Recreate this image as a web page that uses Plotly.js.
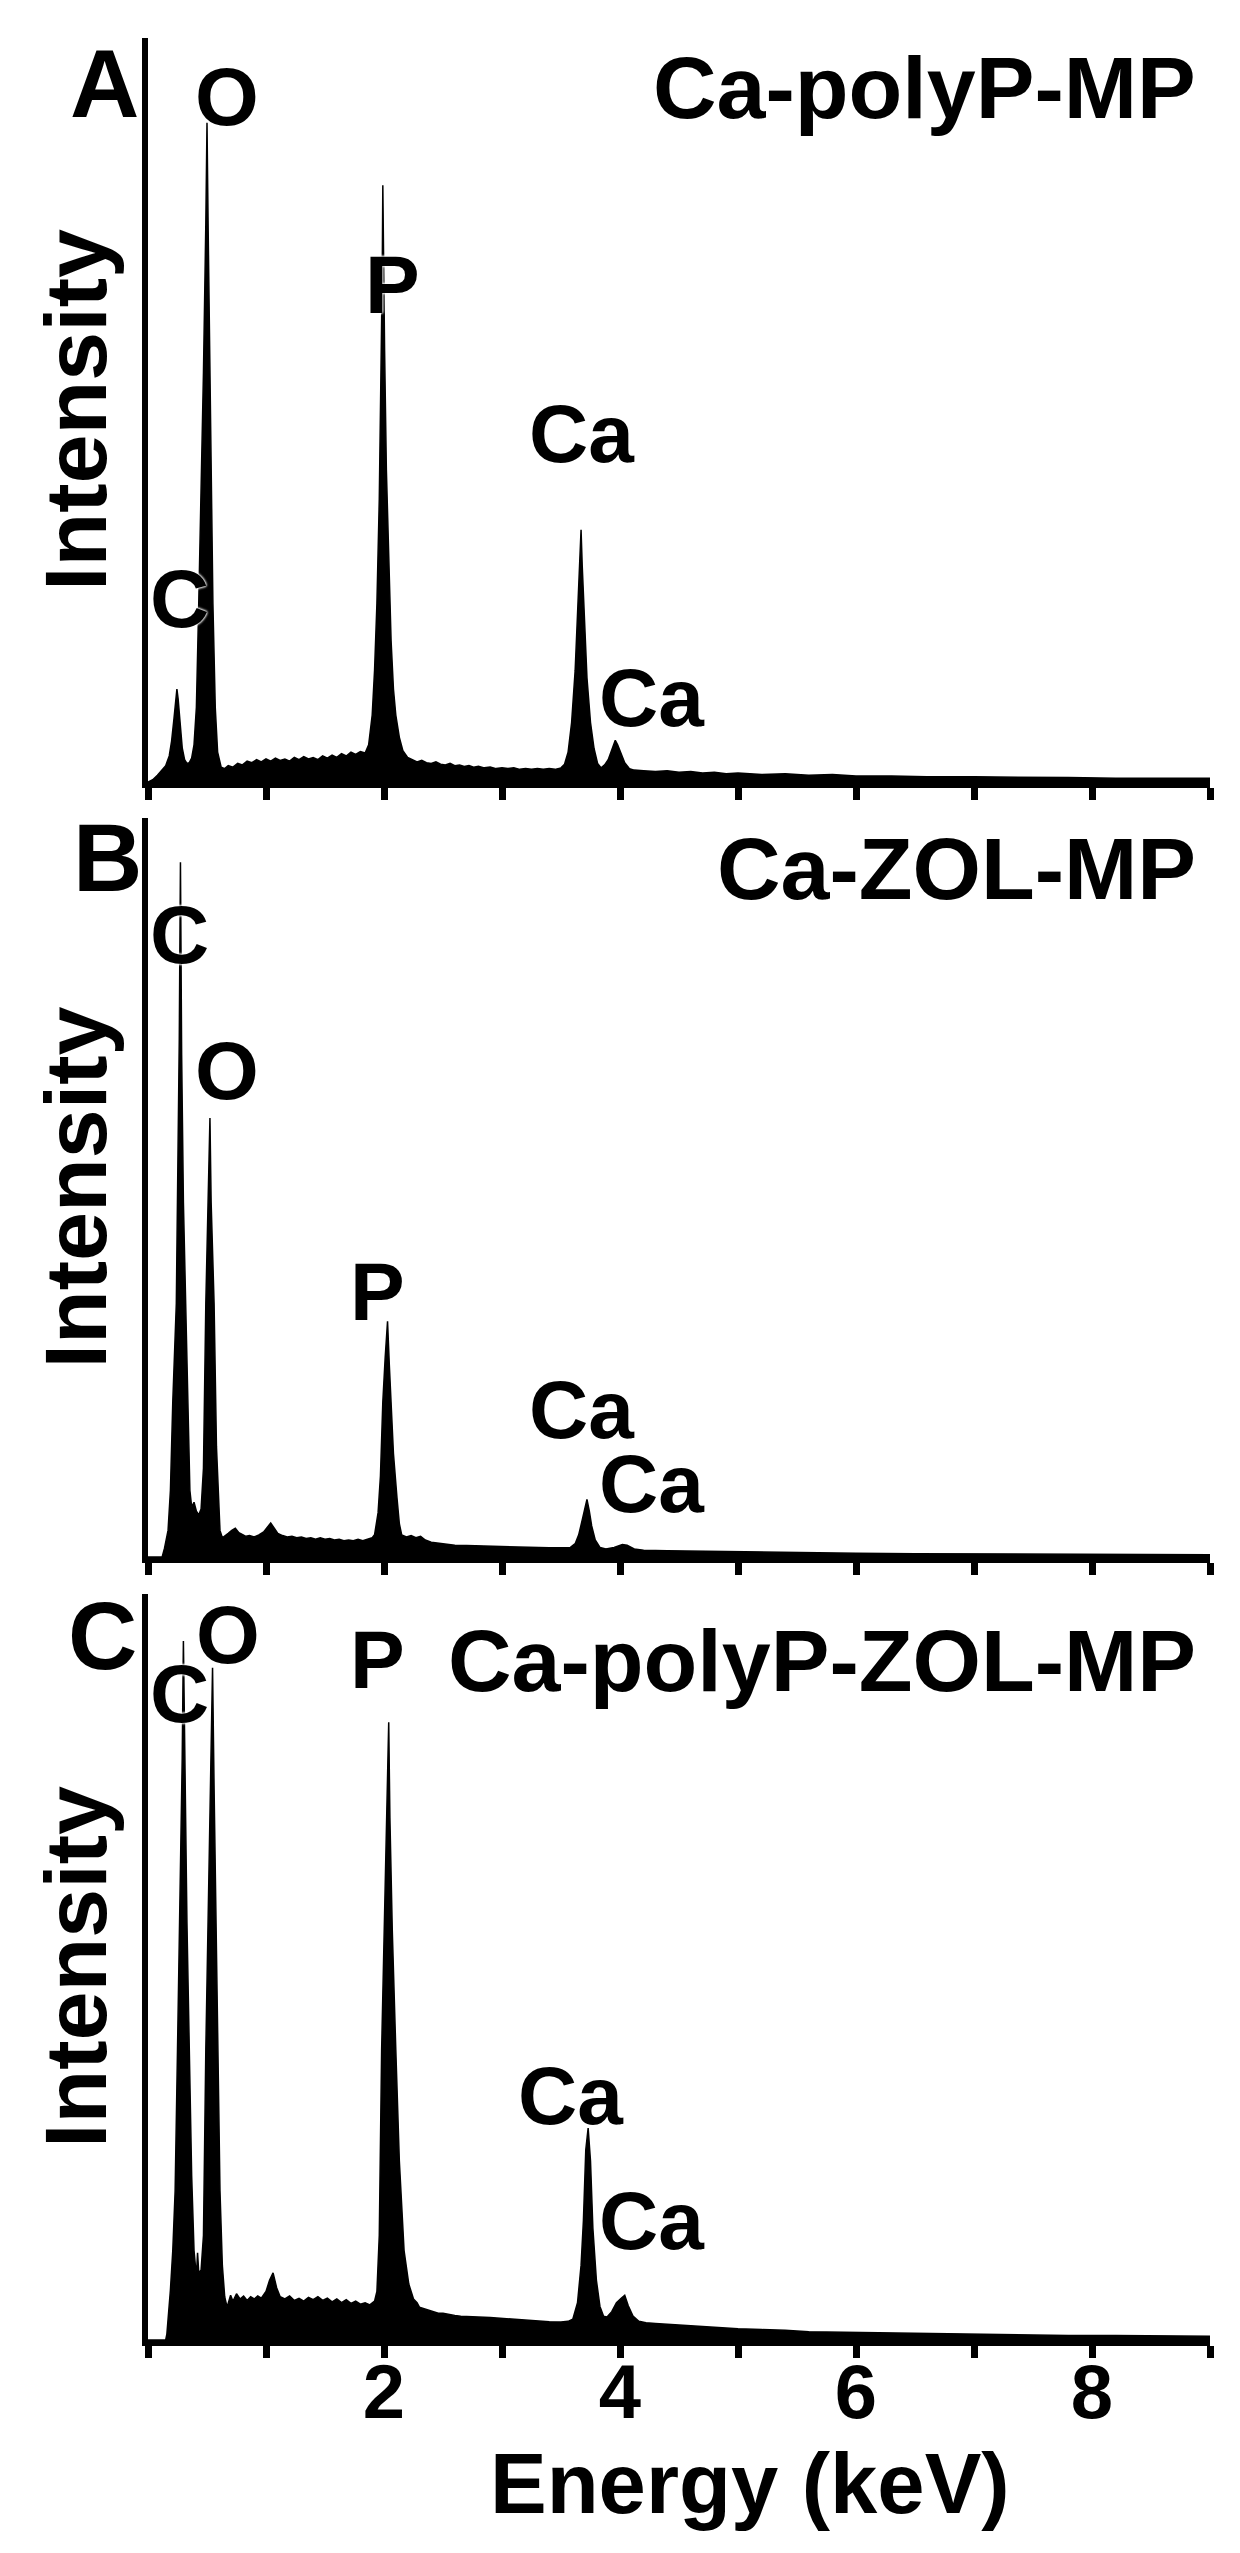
<!DOCTYPE html>
<html>
<head>
<meta charset="utf-8">
<script src="https://cdn.plot.ly/plotly-3.0.1.min.js"></script>
<style>
  html, body { margin: 0; padding: 0; background: #ffffff; }
  #chart { width: 1240px; height: 2553px; }
</style>
</head>
<body>
<div id="chart"></div>
<script>
// ---------------- DATA ----------------
// Energy in keV, intensity in arbitrary units (0-100 = full height of each panel)
const spectrumA = [
[0.00,0.0],[0.04,0.3],[0.08,0.9],[0.12,1.6],[0.15,2.2],[0.18,3.5],[0.20,5.5],[0.22,8.5],[0.235,11.0],[0.245,12.5],[0.255,11.2],[0.27,8.0],[0.29,4.6],[0.31,3.0],[0.33,2.5],[0.35,2.6],[0.37,3.2],[0.39,5.0],[0.41,10.0],[0.43,24.0],[0.45,38.0],[0.47,55.0],[0.49,75.0],[0.50,88.6],[0.51,74.0],[0.53,45.0],[0.55,24.0],[0.57,10.0],[0.59,4.0],[0.62,2.0],[0.65,1.8],[0.68,2.2],[0.72,2.0],[0.76,2.5],[0.80,2.3],[0.84,2.8],[0.88,2.6],[0.92,3.0],[0.96,2.7],[1.00,3.1],[1.04,2.8],[1.08,3.2],[1.12,2.9],[1.16,3.1],[1.20,2.8],[1.24,3.3],[1.28,3.0],[1.32,3.4],[1.36,3.1],[1.40,3.3],[1.44,3.0],[1.48,3.5],[1.52,3.2],[1.56,3.6],[1.60,3.3],[1.64,3.8],[1.68,3.5],[1.72,4.0],[1.76,3.7],[1.80,4.1],[1.84,3.9],[1.87,5.0],[1.90,9.0],[1.92,15.0],[1.94,24.0],[1.96,38.0],[1.975,55.0],[1.985,68.0],[1.99,80.2],[1.995,70.0],[2.005,58.0],[2.02,42.0],[2.04,29.0],[2.06,19.0],[2.08,12.5],[2.10,9.0],[2.13,6.0],[2.16,4.2],[2.20,3.3],[2.24,3.0],[2.28,2.7],[2.32,2.9],[2.36,2.6],[2.40,2.5],[2.44,2.7],[2.48,2.4],[2.52,2.3],[2.56,2.5],[2.60,2.2],[2.64,2.3],[2.68,2.1],[2.72,2.2],[2.76,2.0],[2.80,2.1],[2.85,1.9],[2.90,2.0],[2.95,1.8],[3.00,1.9],[3.05,1.8],[3.10,1.9],[3.15,1.7],[3.20,1.8],[3.25,1.7],[3.30,1.8],[3.35,1.7],[3.40,1.8],[3.45,1.7],[3.50,1.9],[3.53,2.4],[3.56,4.0],[3.59,8.0],[3.62,15.0],[3.64,22.0],[3.66,29.0],[3.67,33.9],[3.68,29.0],[3.70,21.0],[3.72,14.0],[3.75,8.0],[3.78,4.5],[3.81,2.5],[3.84,1.9],[3.87,2.3],[3.90,3.0],[3.93,4.3],[3.96,5.6],[3.98,5.0],[4.01,3.8],[4.04,2.6],[4.08,1.8],[4.12,1.6],[4.20,1.5],[4.30,1.4],[4.40,1.5],[4.50,1.3],[4.60,1.4],[4.70,1.2],[4.80,1.3],[4.90,1.1],[5.00,1.2],[5.20,1.0],[5.40,1.1],[5.60,0.9],[5.80,1.0],[6.00,0.8],[6.30,0.8],[6.60,0.7],[7.00,0.7],[7.40,0.6],[7.80,0.6],[8.20,0.5],[8.60,0.5],[9.00,0.5]
];
const spectrumB = [
[0.00,0.0],[0.12,0.0],[0.14,1.2],[0.17,3.6],[0.19,9.0],[0.21,21.0],[0.24,34.3],[0.255,52.0],[0.265,70.0],[0.275,94.0],[0.285,68.0],[0.30,48.0],[0.32,34.3],[0.34,21.0],[0.355,9.0],[0.37,6.8],[0.39,7.4],[0.41,6.2],[0.43,5.7],[0.45,6.5],[0.47,12.0],[0.49,34.3],[0.505,45.0],[0.515,52.0],[0.525,59.4],[0.535,48.0],[0.55,38.0],[0.56,34.3],[0.58,15.0],[0.60,6.0],[0.61,3.6],[0.63,2.6],[0.66,2.9],[0.68,3.2],[0.71,3.6],[0.74,3.9],[0.77,3.3],[0.80,3.0],[0.83,2.8],[0.86,2.9],[0.90,2.7],[0.94,3.0],[0.98,3.4],[1.01,4.0],[1.04,4.6],[1.07,3.9],[1.10,3.2],[1.14,2.9],[1.18,2.7],[1.22,2.8],[1.26,2.6],[1.30,2.7],[1.34,2.5],[1.38,2.6],[1.42,2.4],[1.46,2.6],[1.50,2.4],[1.54,2.5],[1.58,2.3],[1.62,2.4],[1.66,2.2],[1.70,2.3],[1.74,2.2],[1.78,2.4],[1.82,2.2],[1.86,2.4],[1.90,2.6],[1.92,3.0],[1.95,6.0],[1.97,11.0],[1.99,21.0],[2.01,27.0],[2.03,31.9],[2.045,26.0],[2.06,21.0],[2.08,14.0],[2.11,8.0],[2.13,4.5],[2.15,3.0],[2.19,2.7],[2.23,2.9],[2.27,2.6],[2.31,2.8],[2.35,2.3],[2.40,2.0],[2.45,1.9],[2.50,1.8],[2.55,1.7],[2.60,1.6],[2.70,1.55],[2.80,1.5],[2.90,1.4],[3.00,1.35],[3.10,1.35],[3.20,1.3],[3.30,1.3],[3.40,1.25],[3.50,1.25],[3.58,1.3],[3.62,1.8],[3.65,3.0],[3.68,5.0],[3.70,6.5],[3.72,7.8],[3.74,6.2],[3.76,4.2],[3.79,2.3],[3.83,1.3],[3.88,1.1],[3.95,1.3],[4.02,1.7],[4.06,1.6],[4.12,1.1],[4.20,0.9],[4.40,0.85],[4.60,0.8],[4.80,0.75],[5.00,0.7],[5.30,0.65],[5.60,0.6],[6.00,0.5],[6.50,0.45],[7.00,0.4],[7.50,0.4],[8.00,0.35],[8.50,0.35],[9.00,0.3]
];
const spectrumC = [
[0.00,0.0],[0.15,0.0],[0.16,0.8],[0.17,2.5],[0.19,6.7],[0.21,12.0],[0.23,20.0],[0.25,38.9],[0.27,58.0],[0.29,78.0],[0.30,93.7],[0.31,78.0],[0.33,56.0],[0.35,38.9],[0.37,22.0],[0.39,12.0],[0.41,8.5],[0.42,11.7],[0.43,9.0],[0.45,9.4],[0.47,14.0],[0.49,38.9],[0.51,58.0],[0.53,76.0],[0.547,90.1],[0.56,74.0],[0.575,56.0],[0.59,38.9],[0.61,20.0],[0.63,10.0],[0.65,5.8],[0.67,4.4],[0.70,6.0],[0.72,5.2],[0.75,6.2],[0.78,5.5],[0.81,5.9],[0.84,5.3],[0.87,5.8],[0.90,5.5],[0.93,5.9],[0.96,5.6],[1.00,6.5],[1.03,8.0],[1.06,9.0],[1.09,7.0],[1.12,5.8],[1.16,5.5],[1.20,5.9],[1.24,5.3],[1.28,5.6],[1.32,5.2],[1.36,5.7],[1.40,5.4],[1.44,5.8],[1.48,5.3],[1.52,5.6],[1.56,5.1],[1.60,5.5],[1.64,5.0],[1.68,5.4],[1.72,4.9],[1.76,5.2],[1.80,4.8],[1.84,5.0],[1.88,4.7],[1.92,5.2],[1.94,6.5],[1.96,14.0],[1.98,38.9],[2.00,55.0],[2.02,68.0],[2.04,82.8],[2.05,70.0],[2.07,55.0],[2.10,38.9],[2.13,24.0],[2.17,12.0],[2.21,7.5],[2.25,5.5],[2.28,5.0],[2.30,4.4],[2.34,4.2],[2.38,3.9],[2.42,3.8],[2.46,3.6],[2.50,3.6],[2.55,3.4],[2.60,3.3],[2.65,3.2],[2.70,3.2],[2.75,3.1],[2.80,3.1],[2.90,3.0],[3.00,2.9],[3.10,2.8],[3.20,2.6],[3.30,2.5],[3.40,2.45],[3.50,2.4],[3.56,2.5],[3.60,2.8],[3.64,5.0],[3.67,10.0],[3.69,16.0],[3.71,25.5],[3.73,28.4],[3.75,24.0],[3.77,15.0],[3.80,8.0],[3.83,4.5],[3.86,3.2],[3.89,3.1],[3.93,3.8],[3.97,5.0],[4.01,5.6],[4.04,6.0],[4.07,4.6],[4.11,3.2],[4.16,2.5],[4.22,2.3],[4.30,2.2],[4.40,2.1],[4.50,2.0],[4.60,1.9],[4.70,1.8],[4.80,1.7],[5.00,1.5],[5.20,1.4],[5.40,1.3],[5.60,1.1],[5.80,1.05],[6.00,1.0],[6.30,0.9],[6.60,0.8],[7.00,0.7],[7.40,0.65],[7.80,0.6],[8.20,0.6],[8.60,0.55],[9.00,0.5]
];

const panelLetters = ['A', 'B', 'C'];
const sampleNames = ['Ca-polyP-MP', 'Ca-ZOL-MP', 'Ca-polyP-ZOL-MP'];

// Element labels: text, energy (keV), intensity (label anchor in data units)
const peakTextA = ['O', 'P', 'C', 'Ca', 'Ca'];
const peakEnergyA = [0.669, 2.076, 0.271, 3.678, 4.271];
const peakIntensityA = [92.1, 66.8, 24.6, 46.9, 11.3];

const peakTextB = ['C', 'O', 'P', 'Ca', 'Ca'];
const peakEnergyB = [0.271, 0.669, 1.949, 3.678, 4.271];
const peakIntensityB = [84.3, 65.9, 35.9, 19.9, 10.0];

const peakTextC = ['C', 'O', 'P', 'Ca', 'Ca'];
const peakEnergyC = [0.271, 0.679, 1.949, 3.585, 4.271];
const peakIntensityC = [86.6, 94.6, 91.2, 32.8, 16.0];

const energyTickValues = [0, 1, 2, 3, 4, 5, 6, 7, 8, 9];
const energyTickLabels = ['', '', '2', '', '4', '', '6', '', '8', ''];

const yAxisTitle = 'Intensity';
const xAxisTitle = 'Energy (keV)';

// ---------------- STYLE / LAYOUT ----------------
const FONT = 'Liberation Sans, Arial, Helvetica, sans-serif';
const INK = '#000000';
const HALO = 'white 0px 0px 3px, white 0px 0px 3px, white 0px 0px 2px';

const spectra = [spectrumA, spectrumB, spectrumC];
const peakSets = [
  [peakTextA, peakEnergyA, peakIntensityA],
  [peakTextB, peakEnergyB, peakIntensityB],
  [peakTextC, peakEnergyC, peakIntensityC]
];
const domains = [[0.69369, 0.98512], [0.39013, 0.67959], [0.08343, 0.37564]];
const letterPos = [[-0.0405, 0.9395], [-0.0386, 0.9472], [-0.0433, 0.9437]];
const namePosY = [0.9328, 0.9323, 0.9115];

const traces = spectra.map((s, i) => ({
  type: 'scatter',
  mode: 'lines',
  x: s.map(p => p[0]),
  y: s.map(p => p[1]),
  xaxis: i === 0 ? 'x' : 'x' + (i + 1),
  yaxis: i === 0 ? 'y' : 'y' + (i + 1),
  fill: 'tozeroy',
  fillcolor: INK,
  line: { color: INK, width: 1.5 },
  hoverinfo: 'x+y',
  showlegend: false
}));

const layout = {
  width: 1240,
  height: 2553,
  margin: { l: 148, r: 30, t: 0, b: 0, pad: 0 },
  paper_bgcolor: '#ffffff',
  plot_bgcolor: '#ffffff',
  font: { family: FONT, color: INK },
  showlegend: false,
  annotations: []
};

for (let i = 0; i < 3; i++) {
  const xa = i === 0 ? 'xaxis' : 'xaxis' + (i + 1);
  const ya = i === 0 ? 'yaxis' : 'yaxis' + (i + 1);
  const xid = i === 0 ? 'x' : 'x' + (i + 1);
  const yid = i === 0 ? 'y' : 'y' + (i + 1);
  const isBottom = i === 2;
  layout[xa] = {
    domain: [0, 1],
    anchor: yid,
    range: [0, 9],
    tickmode: 'array',
    tickvals: energyTickValues,
    ticktext: energyTickLabels,
    showticklabels: isBottom,
    tickfont: { family: FONT, size: 76, color: INK, weight: 'bold' },
    ticklabelstandoff: -31,
    ticks: 'outside',
    ticklen: 12,
    tickwidth: 7,
    tickcolor: INK,
    showline: true,
    linewidth: 6,
    linecolor: INK,
    showgrid: false,
    zeroline: false,
    fixedrange: true
  };
  layout[ya] = {
    domain: domains[i],
    anchor: xid,
    range: [0, 100],
    showticklabels: false,
    ticks: '',
    showline: true,
    linewidth: 6,
    linecolor: INK,
    showgrid: false,
    zeroline: false,
    fixedrange: true,
    title: { text: '<b>' + yAxisTitle + '</b>', font: { family: FONT, size: 88, color: INK }, standoff: 8 }
  };

  // panel letter
  layout.annotations.push({
    xref: xid + ' domain', yref: yid + ' domain',
    x: letterPos[i][0], y: letterPos[i][1],
    xanchor: 'center', yanchor: 'middle',
    text: '<b>' + panelLetters[i] + '</b>',
    showarrow: false,
    font: { family: FONT, size: 96, color: INK }
  });
  // sample name
  layout.annotations.push({
    xref: xid + ' domain', yref: yid + ' domain',
    x: 0.9887, y: namePosY[i],
    xanchor: 'right', yanchor: 'middle',
    text: '<b>' + sampleNames[i] + '</b>',
    showarrow: false,
    font: { family: FONT, size: 88, color: INK }
  });
  // element labels
  const [txt, en, inten] = peakSets[i];
  txt.forEach((t, k) => {
    layout.annotations.push({
      xref: xid, yref: yid,
      x: en[k], y: inten[k],
      xanchor: 'center', yanchor: 'middle',
      text: '<b>' + t + '</b>',
      showarrow: false,
      borderpad: 0,
      font: { family: FONT, size: 82, color: INK, shadow: HALO }
    });
  });
}

// x-axis title under the bottom panel
layout.annotations.push({
  xref: 'x3 domain', yref: 'y3 domain',
  x: 0.567, y: -0.193,
  xanchor: 'center', yanchor: 'middle',
  borderpad: 0,
  text: '<b>' + xAxisTitle + '</b>',
  showarrow: false,
  font: { family: FONT, size: 85, color: INK }
});

Plotly.newPlot('chart', traces, layout, { displayModeBar: false, staticPlot: true });
</script>
</body>
</html>
